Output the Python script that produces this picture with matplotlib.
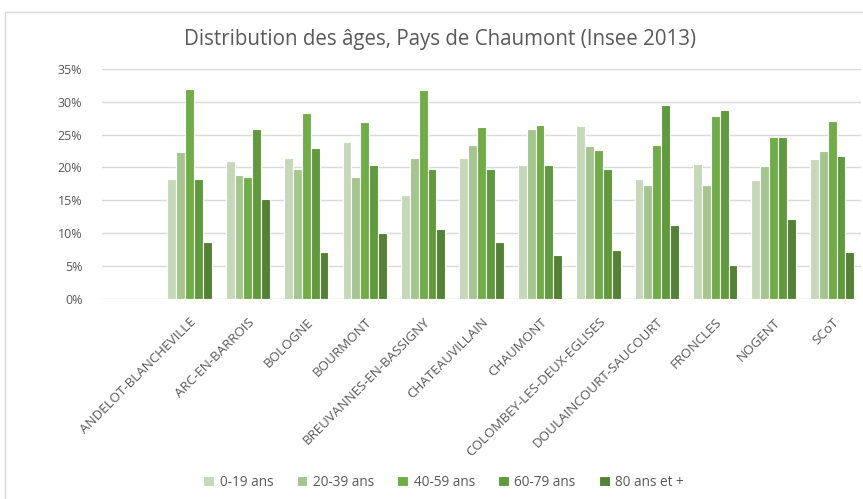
import numpy as np
import matplotlib.pyplot as plt
from matplotlib.patches import Rectangle

plt.rcParams['font.family'] = ['Open Sans', 'DejaVu Sans']

# data (parts of population, %)
communes = ["ANDELOT-BLANCHEVILLE", "ARC-EN-BARROIS", "BOLOGNE", "BOURMONT",
            "BREUVANNES-EN-BASSIGNY", "CHATEAUVILLAIN", "CHAUMONT",
            "COLOMBEY-LES-DEUX-EGLISES", "DOULAINCOURT-SAUCOURT", "FRONCLES",
            "NOGENT", "SCoT"]
age_groups = ["0-19 ans", "20-39 ans", "40-59 ans", "60-79 ans", "80 ans et +"]
age_0_19 = [18.3, 21.0, 21.4, 23.8, 15.8, 21.5, 20.3, 26.3, 18.2, 20.5, 18.1, 21.3]
age_20_39 = [22.3, 18.9, 19.8, 18.5, 21.5, 23.4, 25.8, 23.2, 17.3, 17.3, 20.2, 22.5]
age_40_59 = [32.0, 18.6, 28.3, 26.9, 31.8, 26.2, 26.4, 22.7, 23.4, 27.8, 24.6, 27.0]
age_60_79 = [18.3, 25.9, 23.0, 20.3, 19.8, 19.8, 20.3, 19.8, 29.5, 28.8, 24.6, 21.7]
age_80 = [8.7, 15.2, 7.2, 10.1, 10.7, 8.7, 6.7, 7.5, 11.2, 5.2, 12.1, 7.1]

series = [age_0_19, age_20_39, age_40_59, age_60_79, age_80]
colors = ["#c5d9b9", "#a5c58f", "#70ad47", "#5f9a3c", "#548235"]

fig = plt.figure(figsize=(8.63, 4.99), dpi=100)
ax = fig.add_axes([0.118, 0.401, 0.88, 0.461])

# outer frame of the chart
fig.patches.append(Rectangle((5 / 863, -0.01), 1.0, 1 - 12 / 499 + 0.01,
                             transform=fig.transFigure, fill=False,
                             edgecolor="#d9d9d9", linewidth=1))

x = np.arange(len(communes))
slot = 0.152
for i, (vals, c) in enumerate(zip(series, colors)):
    ax.bar(x + (i - 2) * slot, vals, width=slot, color=c, edgecolor="white",
           linewidth=0.8, label=age_groups[i], zorder=3)

ax.set_xlim(-1.5, 11.5)
ax.set_ylim(0, 35)
ax.set_yticks(range(0, 36, 5))
ax.set_yticklabels([f"{v}%" for v in range(0, 36, 5)], color="#595959", fontsize=9)
ax.yaxis.grid(True, color="#d9d9d9", linewidth=1, zorder=0)
ax.tick_params(axis="both", length=0)
ax.tick_params(axis="y", pad=14)
for s in ax.spines.values():
    s.set_visible(False)

ax.set_xticks(x)
ax.set_xticklabels(communes, rotation=45, ha="right", rotation_mode="anchor",
                   color="#595959", fontsize=9.6)
ax.tick_params(axis="x", pad=12)

fig.text(0.51, 0.92, "Distribution des âges, Pays de Chaumont (Insee 2013)",
         ha="center", va="center", fontsize=14.8, color="#595959")

fig.legend(*ax.get_legend_handles_labels(), loc="center", bbox_to_anchor=(0.514, 0.034),
           ncol=5, frameon=False, fontsize=9.8, labelcolor="#595959",
           handlelength=0.8, handleheight=0.8, handletextpad=0.4, columnspacing=1.7)

fig.savefig("out.png", dpi=100)
